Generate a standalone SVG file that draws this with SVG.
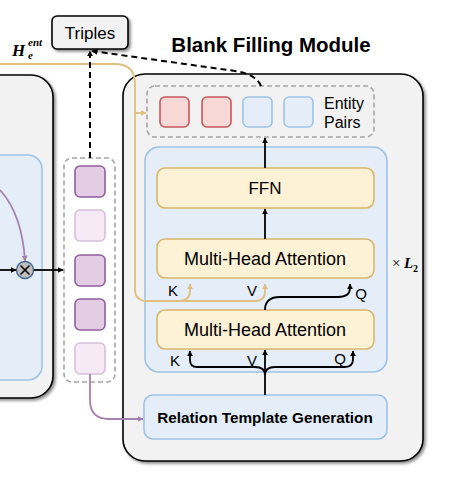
<svg xmlns="http://www.w3.org/2000/svg" width="457" height="485" viewBox="0 0 457 485">
<defs>
<filter id="sh" x="-10%" y="-10%" width="130%" height="130%">
<feDropShadow dx="2" dy="2" stdDeviation="1.5" flood-color="#000" flood-opacity="0.45"/>
</filter>
<marker id="ab" viewBox="0 0 10 10" refX="9" refY="5" markerWidth="6" markerHeight="6" markerUnits="userSpaceOnUse" orient="auto"><path d="M0,0 L10,5 L0,10 z" fill="#000"/></marker>
<marker id="ay" viewBox="0 0 10 10" refX="9" refY="5" markerWidth="6" markerHeight="6" markerUnits="userSpaceOnUse" orient="auto"><path d="M0,0 L10,5 L0,10 z" fill="#dfc080"/></marker>
<marker id="ap" viewBox="0 0 10 10" refX="9" refY="5" markerWidth="6" markerHeight="6" markerUnits="userSpaceOnUse" orient="auto"><path d="M0,0 L10,5 L0,10 z" fill="#a680b0"/></marker>
</defs>
<style>
.panel{fill:#f2f2f2;stroke:#000;stroke-width:1.6}
.blue{fill:#e5eef8;stroke:#9dc3e6;stroke-width:1.6}
.yel{fill:#fef2d6;stroke:#d8b76c;stroke-width:1.6}
.dash{fill:none;stroke:#a6a6a6;stroke-width:1.6;stroke-dasharray:5,3}
.pd{fill:#e4cce4;stroke:#8f5f9e;stroke-width:1.6}
.pl{fill:#f5eaf5;stroke:#d7c0da;stroke-width:1.6}
.red{fill:#f8d7d7;stroke:#c8575a;stroke-width:1.6}
.eb{fill:#e5eef8;stroke:#9dc3e6;stroke-width:1.6}
.t{font-family:"Liberation Sans",Arial,sans-serif;fill:#000}
.blk{fill:none;stroke:#000;stroke-width:1.8}
.dsh{fill:none;stroke:#000;stroke-width:2;stroke-dasharray:6,4}
.yl{fill:none;stroke:#dfc080;stroke-width:1.8}
.pp{fill:none;stroke:#a680b0;stroke-width:1.8}
</style>

<g id="left-panel">
<rect class="panel" x="-40" y="75" width="93" height="323" rx="22" filter="url(#sh)"/>
<rect class="blue" x="-30" y="155" width="72" height="225" rx="14"/>
</g>

<g id="right-panel">
<rect class="panel" x="123" y="74" width="300" height="387" rx="22" filter="url(#sh)"/>
<text class="t" x="271" y="52" font-size="20.5" font-weight="bold" text-anchor="middle">Blank Filling Module</text>
</g>

<g id="triples">
<rect x="52" y="16" width="76" height="33" rx="5" fill="#f2f2f2" stroke="#000" stroke-width="1.6" filter="url(#sh)"/>
<text class="t" x="90" y="39" font-size="17" text-anchor="middle">Triples</text>
</g>

<g id="h-label">
<text x="12" y="56" font-family="'Liberation Serif',serif" font-weight="bold" font-style="italic" font-size="17">H</text>
<text x="28" y="46" font-family="'Liberation Serif',serif" font-weight="bold" font-style="italic" font-size="11">ent</text>
<text x="28" y="59" font-family="'Liberation Serif',serif" font-weight="bold" font-style="italic" font-size="11">e</text>
</g>

<g id="entity-pairs">
<rect class="dash" x="147" y="86" width="227" height="51" rx="8" fill="#f2f2f2"/>
<rect class="red" x="160" y="97" width="29" height="30" rx="5"/>
<rect class="red" x="202" y="97" width="29" height="30" rx="5"/>
<rect class="eb" x="243" y="97" width="29" height="30" rx="5"/>
<rect class="eb" x="284" y="97" width="29" height="30" rx="5"/>
<text class="t" x="324" y="109" font-size="16">Entity</text>
<text class="t" x="324" y="128" font-size="16">Pairs</text>
</g>

<g id="encoder">
<rect class="blue" x="145" y="147" width="242" height="225" rx="14"/>
</g>

<g id="ffn">
<rect class="yel" x="157" y="168" width="217" height="40" rx="8"/>
<text class="t" x="265" y="194" font-size="17" text-anchor="middle">FFN</text>
</g>

<g id="mha1">
<rect class="yel" x="157" y="239" width="217" height="39" rx="8"/>
<text class="t" x="265" y="265" font-size="18" text-anchor="middle">Multi-Head Attention</text>
</g>

<g id="mha2">
<rect class="yel" x="157" y="310" width="217" height="39" rx="8"/>
<text class="t" x="265" y="336" font-size="18" text-anchor="middle">Multi-Head Attention</text>
</g>

<g id="rtg">
<rect class="blue" x="144" y="395" width="243" height="44" rx="9"/>
<text class="t" x="265" y="423" font-size="15.3" font-weight="bold" text-anchor="middle">Relation Template Generation</text>
</g>

<g id="times-l2">
<text x="392" y="268" font-family="'Liberation Serif',serif" font-size="15">×</text>
<text x="404" y="268" font-family="'Liberation Serif',serif" font-weight="bold" font-style="italic" font-size="15">L</text>
<text x="413" y="272" font-family="'Liberation Serif',serif" font-weight="bold" font-size="10">2</text>
</g>

<g id="column">
<rect class="dash" x="64" y="158" width="51" height="224" rx="8" fill="#fff"/>
<rect class="pd" x="75" y="166" width="30" height="31" rx="5"/>
<rect class="pl" x="75" y="210" width="30" height="31" rx="5"/>
<rect class="pd" x="75" y="255" width="30" height="31" rx="5"/>
<rect class="pd" x="75" y="299" width="30" height="31" rx="5"/>
<rect class="pl" x="75" y="343" width="30" height="31" rx="5"/>
</g>

<g id="multiply">
<circle cx="25" cy="270" r="8.5" fill="#bfbfbf" stroke="#44638f" stroke-width="1.4"/>
<path d="M20.5,265.5 L29.5,274.5 M29.5,265.5 L20.5,274.5" stroke="#000" stroke-width="1.6"/>
</g>

<g id="labels">
<text class="t" x="173" y="296" font-size="15" text-anchor="middle">K</text>
<text class="t" x="252" y="296" font-size="15" text-anchor="middle">V</text>
<text class="t" x="361" y="299" font-size="15" text-anchor="middle">Q</text>
<text class="t" x="175" y="366" font-size="15" text-anchor="middle">K</text>
<text class="t" x="252" y="366" font-size="15" text-anchor="middle">V</text>
<text class="t" x="340" y="364" font-size="15" text-anchor="middle">Q</text>
</g>

<g id="connectors">
<path class="yl" d="M0,64 H115 Q135,64 135,84 V289 Q135,301 147,301 H255 Q265,301 265,291 V284" marker-end="url(#ay)"/>
<path class="yl" d="M178,301 Q190,301 190,291 V284" marker-end="url(#ay)"/>
<path class="yl" d="M135,113 H146" marker-end="url(#ay)"/>
<path class="dsh" d="M90,158 V51" marker-end="url(#ab)"/>
<path class="dsh" d="M261,86 Q256,74 235,71 L92,51" marker-end="url(#ab)"/>
<path class="blk" d="M265,168 V138" marker-end="url(#ab)"/>
<path class="blk" d="M265,239 V209" marker-end="url(#ab)"/>
<path class="blk" d="M265,310 Q265,297 280,297 H338 Q350,297 350,288 V284" marker-end="url(#ab)"/>
<path class="blk" d="M265,395 V350" marker-end="url(#ab)"/>
<path class="blk" d="M265,375 Q265,367 255,367 H197 Q190,367 190,360 V351" marker-end="url(#ab)"/>
<path class="blk" d="M265,375 Q265,367 275,367 H345 Q353,367 353,359 V351" marker-end="url(#ab)"/>
<path class="pp" d="M90,374 V400 Q90,419 109,419 H143" marker-end="url(#ap)"/>
<path class="pp" d="M0,190 Q22,214 25,261" marker-end="url(#ap)"/>
<path class="blk" d="M0,270 H16" marker-end="url(#ab)"/>
<path class="blk" d="M34,270 H63" marker-end="url(#ab)"/>
</g>
</svg>
